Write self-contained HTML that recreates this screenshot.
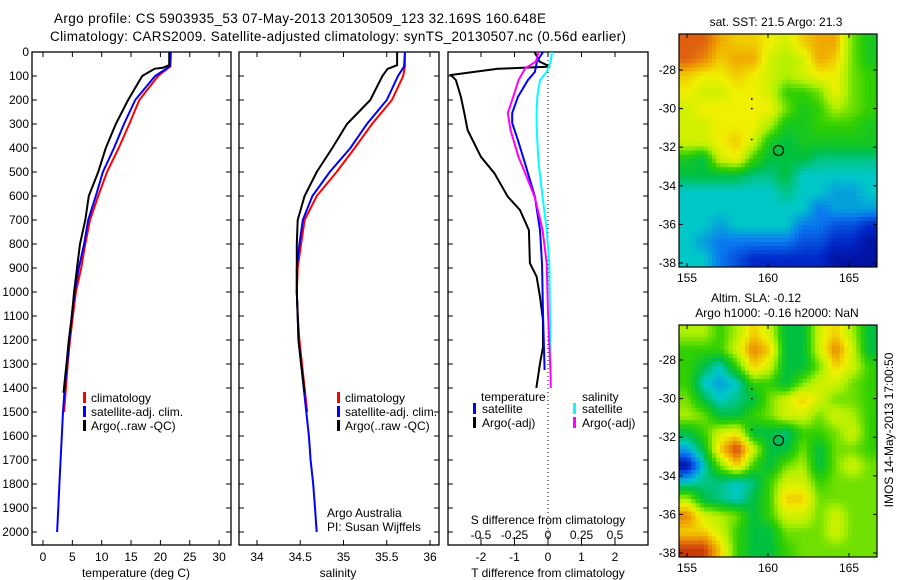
<!DOCTYPE html>
<html><head><meta charset="utf-8"><style>
html,body{margin:0;padding:0;background:#fff;}
svg{display:block;font-family:"Liberation Sans",sans-serif;}
text{font-size:12px;fill:#000;}
</style></head><body>
<svg id="fig" width="900" height="580" viewBox="0 0 900 580">
<text x="54" y="23" style="font-size:13.5px" textLength="492">Argo profile: CS 5903935_53 07-May-2013 20130509_123 32.169S 160.648E</text>
<text x="50" y="41" style="font-size:13.5px" textLength="576">Climatology: CARS2009. Satellite-adjusted climatology: synTS_20130507.nc (0.56d earlier)</text>
<g id="g"></g>
</svg>
<script>
// ---------- data ----------
const tDepth = [0,60,100,200,300,400,500,600,700,800,900,1000,1100,1200,1300,1400,1500,1600,1700,1800,1900,2000];
const tClim  = [21.8,21.7,19.6,16.4,14.7,12.9,10.9,9.4,8.0,7.2,6.5,5.6,5.1,4.6,4.2,3.9,3.6];
const tSat   = [21.7,21.6,19.1,15.7,13.8,12.1,10.2,9.0,7.7,7.0,6.1,5.4,4.9,4.5,4.1,3.7,3.4,3.2,3.0,2.8,2.6,2.4];
const aDepth = [0,55,65,70,100,200,300,400,500,600,700,800,900,1000,1100,1200,1300,1420];
const tArgo  = [21.5,21.5,20.5,19.0,16.9,14.5,12.4,10.7,9.4,7.8,7.2,6.3,5.8,5.3,4.9,4.4,4.0,3.5];
const sClim  = [35.71,35.71,35.69,35.56,35.33,35.13,34.92,34.69,34.55,34.51,34.47,34.46,34.47,34.49,34.52,34.55,34.58];
const sSat   = [35.71,35.70,35.63,35.5,35.27,35.08,34.84,34.64,34.53,34.49,34.46,34.46,34.47,34.48,34.51,34.54,34.57,34.6,34.62,34.65,34.67,34.69];
const sArgo  = [35.62,35.62,35.55,35.51,35.45,35.31,35.04,34.87,34.69,34.55,34.47,34.46,34.46,34.46,34.47,34.48,34.51,34.55];
const dDepth = [0,40,61,70,96,117,187,254,325,437,505,603,658,742,880,936,1020,1117,1229,1297,1354,1400];
const dTArgo = [-0.4,-0.25,0.06,-1.5,-2.9,-2.75,-2.6,-2.5,-2.4,-2.0,-1.6,-1.2,-0.84,-0.57,-0.54,-0.34,-0.24,-0.15,-0.15,-0.24,-0.3,-0.35];
const sdDepth= [0,40,83,117,187,254,296,367,462,603,742,881,1090,1325];
const dTSat  = [-0.15,-0.33,-0.39,-0.6,-0.9,-1.07,-1.07,-0.9,-0.69,-0.39,-0.24,-0.18,-0.15,-0.1];
const dSSat  = [0.03,0.02,-0.01,-0.06,-0.08,-0.085,-0.085,-0.08,-0.07,-0.04,-0.01,0.01,0.015,0.02];
const adDepth= [0,40,68,117,187,254,325,437,505,603,742,881,1090,1354,1400];
const dSArgo = [-0.07,-0.09,-0.17,-0.22,-0.26,-0.3,-0.28,-0.22,-0.17,-0.1,-0.04,-0.01,0,0.02,0.02];
const depthTicks = [0,100,200,300,400,500,600,700,800,900,1000,1100,1200,1300,1400,1500,1600,1700,1800,1900,2000];
const tempTicks = [0,5,10,15,20,25,30];
const salTicks = [34,34.5,35,35.5,36];
const tdTicks = [-2,-1,0,1,2];
const sdTicks = [-0.5,-0.25,0,0.25,0.5];
const latTicks = [-28,-30,-32,-34,-36,-38];
const lonTicks = [155,160,165];
const sstGrid = [
[9,9,8,7.5,7.5,7,6.5,7.5,8,8,5.5,4.5],[9,8.5,7.5,8,8,6.5,6,6.5,8,7.5,5.5,4.5],[7.5,7,7,7.5,7,6.5,6,6.5,7,7,5.5,5],
[7,6.5,6.5,7,7,6.5,5,5,5.5,7,5.5,5],[6.5,7,7,7,7,7,5.5,4.5,5,6,5.5,5],[6.5,6.5,7,7,7,6,4.5,4.5,5,5,5,4.5],
[6.5,6.5,7,7.5,6.5,4.5,4,4.5,4.5,4.5,4.5,4.5],[4.5,4,6.5,7,5,4,4,4,3.5,3.5,3.5,3.5],[4,4,4,4,3.5,3.5,4,3,3,3,3,3],
[3,3,3,3,3,3,3.5,3,3,2.5,2.5,3],[3,3,3,3,3,3,3,3,2,2.5,2.5,2.5],[3,3,2.5,3,3,3,3,2,2,1.5,1.5,1],
[3,2.5,2,2,2,2,2,1.5,1.5,1,1,0.5],[3,3,2,1.5,1,1,1,1,1,0.5,0.5,0.5]];
const slaGrid = [
[6,6,5,6,7.5,6.5,4,4,6.5,7.5,6,4],[5,5,5,6.5,8.5,7.5,4,4,6.5,8.5,6.5,4],[5,4,3,5,7.5,6.5,4,4,5.5,7.5,6.5,5],
[5,3,2.5,3,5,5,4,5.5,6.5,6.5,5.5,5],[5.5,4,3,3.5,4,5.5,6.5,7.5,6.5,5.5,5.5,5],[6,5.5,4,4,5,5.5,6.5,6.5,5.5,6.5,6,5],
[4,5,6.5,7,4,4,3.5,5,5,5.5,6.5,5],[2.5,4,7.5,9.5,6.5,4,4,5.5,4,5.5,5.5,5],[0.5,3,5.5,7.5,5,4,5.5,6,4,5.5,6.5,5.5],
[3,3.5,3.5,3,3.5,5,6.5,6.5,5,5.5,5.5,5.5],[6,4,3.5,3,4,5,7.5,7.5,5.5,5.5,5.5,5.5],[8.5,6.5,6,5.5,4,5,6.5,6.5,5.5,6.5,5.5,5.5],
[7.5,7.5,6.5,5,4,4,5.5,5.5,5.5,6.5,5.5,5.5],[9.5,9.5,7.5,5,4,4,5,5.5,5.5,5.5,5.5,5.5]];
const argoLon = 160.648, argoLat = -32.169;

// ---------- helpers ----------
const NS="http://www.w3.org/2000/svg", G=document.getElementById('g');
function el(tag,attrs,parent){const e=document.createElementNS(NS,tag);for(const k in attrs)e.setAttribute(k,attrs[k]);(parent||G).appendChild(e);return e;}
function txt(x,y,s,anchor,parent){const t=el('text',{x:x,y:y,'text-anchor':anchor||'start'},parent);t.textContent=s;return t;}
const yD = d => 52 + d*0.24;
const xT = t => 43 + t*5.87;
const xS = s => 257 + (s-34)*86.5;
const xTD = v => 548 + v*33.5;
const xSD = v => 548 + v*134;
function line(xs,ys,xf,yf,color,w,name){
  let p=''; for(let i=0;i<Math.min(xs.length,ys.length);i++){p+=(i?'L':'M')+xf(xs[i]).toFixed(1)+','+yf(ys[i]).toFixed(1);}
  const e=el('path',{d:p,fill:'none',stroke:color,'stroke-width':w});
  
  
}
function frame(x0,x1,name){
  const r=el('rect',{x:x0,y:52,width:x1-x0,height:493,fill:'none',stroke:'#000','stroke-width':1.3});
  
  
  depthTicks.forEach(d=>{el('line',{x1:x0,x2:x0+5,y1:yD(d),y2:yD(d),stroke:'#000'});el('line',{x1:x1-5,x2:x1,y1:yD(d),y2:yD(d),stroke:'#000'});});
}
// ---------- panel 1 ----------
frame(32,231,'temperature-panel');
depthTicks.forEach(d=>{const t=txt(29,yD(d)+4,String(d),'end');
  
  });
tempTicks.forEach(v=>{el('line',{x1:xT(v),x2:xT(v),y1:545,y2:540,stroke:'#000'});el('line',{x1:xT(v),x2:xT(v),y1:52,y2:57,stroke:'#000'});
  const t=txt(xT(v),561,String(v),'middle');
  
  });
txt(136,577,'temperature (deg C)','middle');
line(tClim,tDepth,xT,yD,'#f00',2,'temperature-climatology-line');
line(tSat,tDepth,xT,yD,'#00f',2,'temperature-satellite-line');
line(tArgo,aDepth,xT,yD,'#000',2,'temperature-argo-line');
// ---------- panel 2 ----------
frame(239,439,'salinity-panel');
salTicks.forEach(v=>{el('line',{x1:xS(v),x2:xS(v),y1:545,y2:540,stroke:'#000'});el('line',{x1:xS(v),x2:xS(v),y1:52,y2:57,stroke:'#000'});
  const t=txt(xS(v),561,String(v),'middle');
  
  });
txt(338,577,'salinity','middle');
line(sClim,tDepth,xS,yD,'#f00',2,'salinity-climatology-line');
line(sSat,tDepth,xS,yD,'#00f',2,'salinity-satellite-line');
line(sArgo,aDepth,xS,yD,'#000',2,'salinity-argo-line');
txt(327,517,'Argo Australia');
txt(327,531,'PI: Susan Wijffels');
// legends panel 1 & 2
[[83,'temperature'],[337,'salinity']].forEach(([lx,nm])=>{
  [['#f00','climatology'],['#00f','satellite-adj. clim.'],['#000','Argo(..raw -QC)']].forEach(([c,s],i)=>{
    const y=398+i*14;
    el('rect',{x:lx,y:y-6,width:3,height:11,fill:c});
    const t=txt(lx+8,y+4,s);
    
    
  });
});
// ---------- panel 3 ----------
frame(448,648,'difference-panel');
el('line',{x1:548,x2:548,y1:52,y2:545,stroke:'#000','stroke-dasharray':'1,3'});
tdTicks.forEach(v=>{el('line',{x1:xTD(v),x2:xTD(v),y1:545,y2:540,stroke:'#000'});el('line',{x1:xTD(v),x2:xTD(v),y1:52,y2:57,stroke:'#000'});
  const t=txt(xTD(v),561,String(v),'middle');
  
  });
sdTicks.forEach(v=>{el('line',{x1:xSD(v),x2:xSD(v),y1:545,y2:537,stroke:'#000'});
  const t=txt(xSD(v),539,String(v),'middle');
  
  });
txt(548,524,'S difference from climatology','middle');
txt(548,577,'T difference from climatology','middle');
line(dTArgo,dDepth,xTD,yD,'#000',2,'tdiff-argo-line');
line(dTSat,sdDepth,xTD,yD,'#00f',2,'tdiff-satellite-line');
line(dSSat,sdDepth,xSD,yD,'#0ff',2,'sdiff-satellite-line');
line(dSArgo,adDepth,xSD,yD,'#f0f',2,'sdiff-argo-line');
txt(481,401,'temperature');
txt(582,401,'salinity');
[[473,'#00f','satellite',413],[473,'#000','Argo(-adj)',427],[573,'#0ff','satellite',413],[573,'#f0f','Argo(-adj)',427]].forEach(([x,c,s,y])=>{
  el('rect',{x:x,y:y-10,width:3,height:11,fill:c});
  const t=txt(x+9,y,s);
  
  
});
// ---------- maps ----------
const stops=['#000080','#0028c8','#0a78f0','#00c8c8','#00c040','#30d000','#b0f000','#f0f000','#f0a800','#e06010','#b01800'];
function hx(h){return [1,3,5].map(i=>parseInt(h.substr(i,2),16));}
function cmap(v){v=Math.max(0,Math.min(10,v));const i=Math.min(9,Math.floor(v)),f=v-i;const a=hx(stops[i]),b=hx(stops[i+1]);
  return 'rgb('+a.map((c,k)=>Math.round(c+(b[k]-c)*f)).join(',')+')';}
function sample(grid,u,v){
  const R=grid.length,C=grid[0].length;
  u=Math.max(0,Math.min(C-1,u)); v=Math.max(0,Math.min(R-1,v));
  const j=Math.min(C-2,Math.floor(u)), i=Math.min(R-2,Math.floor(v)), fu=u-j, fv=v-i;
  return grid[i][j]*(1-fu)*(1-fv)+grid[i][j+1]*fu*(1-fv)+grid[i+1][j]*(1-fu)*fv+grid[i+1][j+1]*fu*fv;
}
function map(grid,x0,x1,y0,y1,lat28y,lat38y,name){
  const lonX=l=>687+(l-155)*16.2, latY=l=>lat28y+(-28-l)*(lat38y-lat28y)/10;
  const rows=grid.length, cols=grid[0].length, up=4, nc=cols*up, nr=rows*up;
  const cw=(x1-x0)/nc, ch=(y1-y0)/nr;
  const g=el('g',{});
  
  
  for(let i=0;i<nr;i++)for(let j=0;j<nc;j++){
    const v=sample(grid,(j+0.5)/up-0.5,(i+0.5)/up-0.5);
    const c=el('rect',{x:(x0+j*cw).toFixed(2),y:(y0+i*ch).toFixed(2),width:(cw+0.5).toFixed(2),height:(ch+0.5).toFixed(2),fill:cmap(v)},g);
    
    
  }
  el('rect',{x:x0,y:y0,width:x1-x0,height:y1-y0,fill:'none',stroke:'#000','stroke-width':1.2});
  latTicks.forEach(l=>{const y=latY(l);el('line',{x1:x0,x2:x0+4,y1:y,y2:y,stroke:'#000'});el('line',{x1:x1-4,x2:x1,y1:y,y2:y,stroke:'#000'});
    const t=txt(x0-3,y+4,String(l),'end');  });
  lonTicks.forEach(l=>{const x=lonX(l);el('line',{x1:x,x2:x,y1:y1,y2:y1-4,stroke:'#000'});el('line',{x1:x,x2:x,y1:y0,y2:y0+4,stroke:'#000'});
    const t=txt(x,y1+15,String(l),'middle');  });
  const m=el('circle',{cx:lonX(argoLon),cy:latY(argoLat),r:5,fill:'none',stroke:'#000','stroke-width':1.2});
  
  
  [[159,-29.5],[159,-30],[159,-31.6]].forEach(([lo,la])=>el('circle',{cx:lonX(lo),cy:latY(la),r:0.9,fill:'#000'}));
}
map(sstGrid,679,877,34,267,70,263,'sst-map');
map(slaGrid,679,877,325,557,360,553,'sla-map');
txt(776,26,'sat. SST: 21.5 Argo: 21.3','middle');
txt(756,302,'Altim. SLA: -0.12','middle');
txt(777,317,'Argo h1000: -0.16 h2000: NaN','middle');
const ts=txt(0,0,'IMOS 14-May-2013 17:00:50','middle');
ts.setAttribute('transform','translate(893,430) rotate(-90)');


</script>
</body></html>
